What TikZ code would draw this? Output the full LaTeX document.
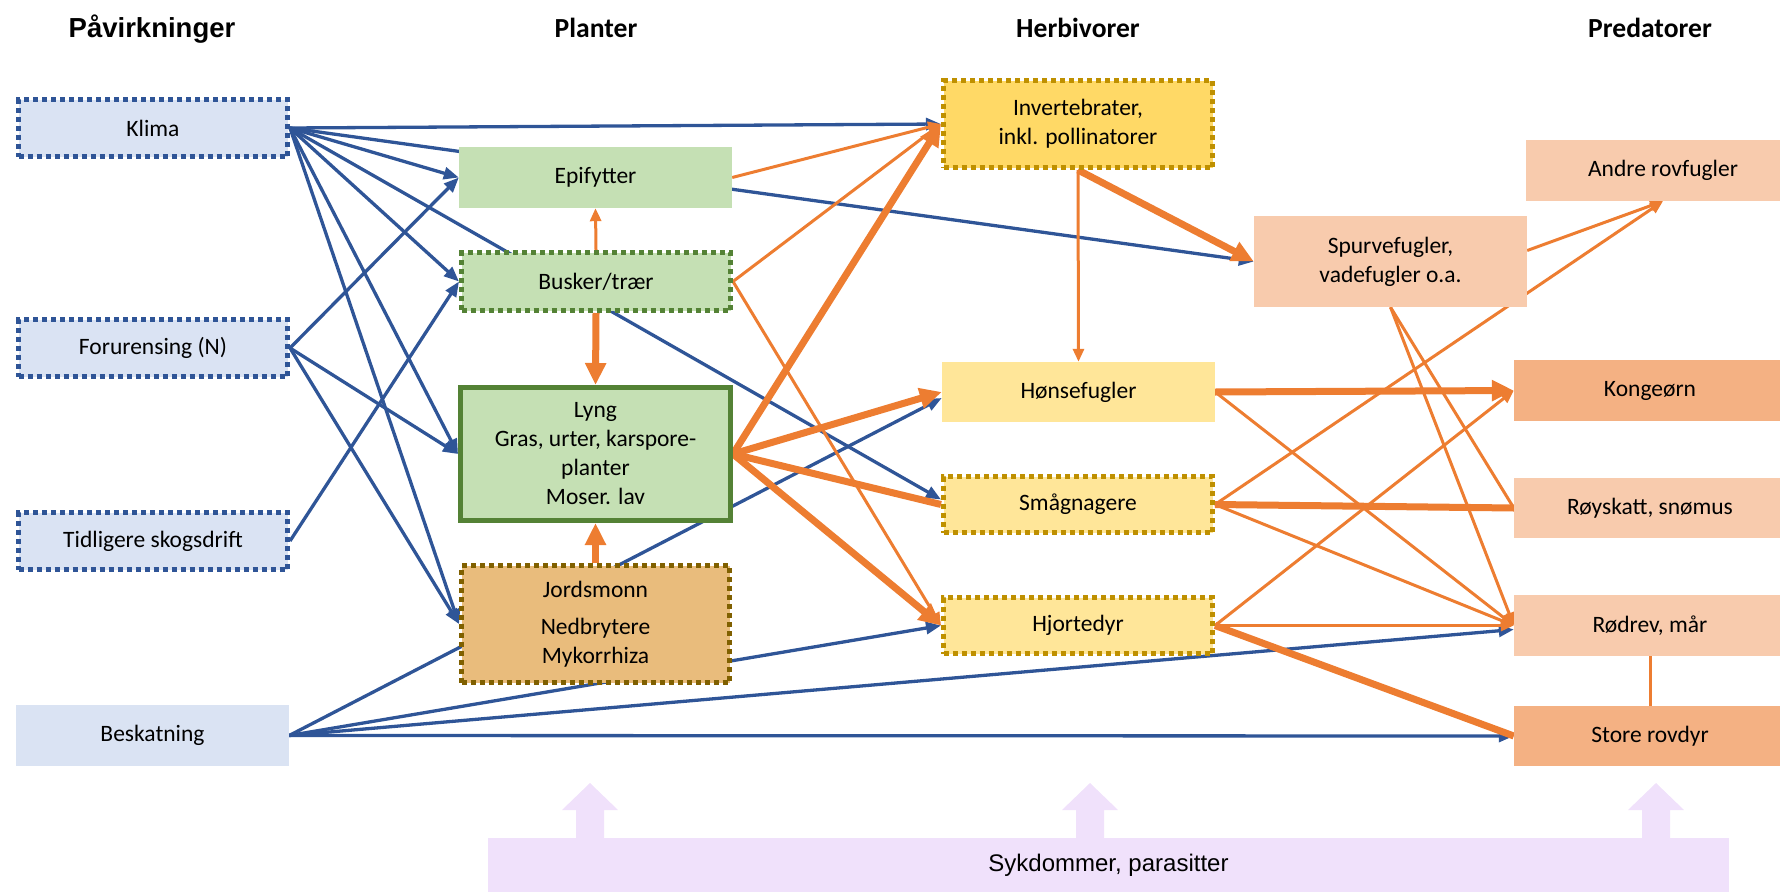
\documentclass[tikz,border=0pt]{standalone}
\usepackage{fontspec}
\setmainfont{Carlito}
\newfontfamily\arialf{Liberation Sans}
\usetikzlibrary{arrows.meta,backgrounds,calc}
\definecolor{blu}{HTML}{2F5597}
\definecolor{org}{HTML}{ED7D31}
\definecolor{pawfill}{HTML}{DAE3F3}
\definecolor{plantfill}{HTML}{C5E0B4}
\definecolor{plantdk}{HTML}{548235}
\definecolor{soilfill}{HTML}{E9BC7C}
\definecolor{soilbd}{HTML}{806000}
\definecolor{invfill}{HTML}{FFD966}
\definecolor{herbfill}{HTML}{FFE699}
\definecolor{goldbd}{HTML}{BF9000}
\definecolor{predl}{HTML}{F8CBAD}
\definecolor{predd}{HTML}{F4B183}
\definecolor{sykfill}{HTML}{F0E1FB}
\begin{document}
\begin{tikzpicture}[x=1pt,y=-1pt,
  bx/.style={rectangle, inner sep=0pt, align=center, font=\fontsize{23.5}{29}\selectfont},
  dotbord/.style={draw=#1, line width=5pt, dash pattern=on 5pt off 4pt},
  hdr/.style={anchor=base, inner sep=0pt, font=\bfseries\fontsize{27.6}{30}\selectfont},
  bl/.style={draw=blu, line width=3.3pt, -{Triangle[length=15pt,width=12pt]}},
  ot/.style={draw=org, line width=3pt, -{Triangle[length=13pt,width=11pt]}},
  otn/.style={draw=org, line width=3pt},
  oT/.style={draw=org, line width=7pt, -{Triangle[length=22pt,width=20pt]}},
  oTn/.style={draw=org, line width=7pt},
]
\useasboundingbox (0,0) rectangle (1780,894);
\clip (0,0) rectangle (1780,894);

% headers
\node[hdr, font=\arialf\bfseries\fontsize{27.5}{30}\selectfont] (h1) at (152,37) {Påvirkninger};
\node[hdr] (h2) at (596,37) {Planter};
\node[hdr] (h3) at (1078,37) {Herbivorer};
\node[hdr] (h4) at (1650,37) {Predatorer};

% Påvirkninger
\node[bx, fill=pawfill, dotbord=blu, minimum width=269pt, minimum height=57pt] (klima) at (153,128) {Klima};
\node[bx, fill=pawfill, dotbord=blu, minimum width=269pt, minimum height=57pt] (foru) at (153,348) {Forurensing (N)};
\node[bx, fill=pawfill, dotbord=blu, minimum width=269pt, minimum height=57pt] (tidl) at (153,541) {Tidligere skogsdrift};
\node[bx, fill=pawfill, minimum width=273pt, minimum height=61pt] (besk) at (152.5,735.5) {Beskatning};

% Planter
\node[bx, fill=plantfill, minimum width=273pt, minimum height=61pt] (epi) at (595.5,177.5) {Epifytter};
\node[bx, fill=plantfill, dotbord=plantdk, minimum width=269pt, minimum height=58pt] (busk) at (596,281.5) {Busker/trær};
\node[bx, fill=plantfill, draw=plantdk, line width=5pt, minimum width=270pt, minimum height=133pt] (lyng) at (595.5,454) {Lyng\\Gras, urter, karspore-\\planter\\Moser. lav};
\node[bx, fill=soilfill, dotbord=soilbd, minimum width=268pt, minimum height=117pt] (jord) at (595.5,624) {Jordsmonn\\[8pt]Nedbrytere\\Mykorrhiza};

% Herbivorer
\node[bx, fill=invfill, dotbord=goldbd, minimum width=269pt, minimum height=87pt] (inv) at (1078,124) {Invertebrater,\\inkl. pollinatorer};
\node[bx, fill=herbfill, minimum width=273pt, minimum height=60pt] (hons) at (1078.5,392) {Hønsefugler};
\node[bx, fill=herbfill, dotbord=goldbd, minimum width=269pt, minimum height=56pt] (smaa) at (1078,504.5) {Smågnagere};
\node[bx, fill=herbfill, dotbord=goldbd, minimum width=269pt, minimum height=56pt] (hjor) at (1078,625.5) {Hjortedyr};
\node[bx, fill=predl, minimum width=273pt, minimum height=91pt] (spur) at (1390.5,261.5) {Spurvefugler,\\vadefugler o.a.};

% Predatorer
\node[bx, fill=predl, minimum width=274pt, minimum height=61pt] (andre) at (1663,170.5) {Andre rovfugler};
\node[bx, fill=predd, minimum width=272pt, minimum height=61pt] (kong) at (1650,390.5) {Kongeørn};
\node[bx, fill=predl, minimum width=272pt, minimum height=60pt] (roys) at (1650,508) {Røyskatt, snømus};
\node[bx, fill=predl, minimum width=272pt, minimum height=61pt] (rodr) at (1650,625.5) {Rødrev, mår};
\node[bx, fill=predd, minimum width=272pt, minimum height=60pt] (store) at (1650,736) {Store rovdyr};

% Sykdommer
\foreach \c in {590,1090,1656}{
  \fill[sykfill] (\c-14,840) -- (\c-14,810) -- (\c-28,810) -- (\c,783) -- (\c+28,810) -- (\c+14,810) -- (\c+14,840) -- cycle;
}
\node[rectangle, inner sep=0pt, fill=sykfill, minimum width=1241pt, minimum height=54pt, font=\arialf\fontsize{24}{28}\selectfont] (syk) at (1108.5,865) {Sykdommer, parasitter};

\begin{scope}[on background layer]
% blue
\draw[bl] (klima.east) -- (inv.west);
\draw[bl] (klima.east) -- (spur.west);
\draw[bl] (klima.east) -- (epi.west);
\draw[bl] (klima.east) -- (busk.west);
\draw[bl] (klima.east) -- ($(smaa.west)+(0,-5)$);
\draw[bl] (klima.east) -- (lyng.west);
\draw[bl] (klima.east) -- (jord.west);
\draw[bl] (foru.east) -- (epi.west);
\draw[bl] (foru.east) -- (lyng.west);
\draw[bl] (foru.east) -- (jord.west);
\draw[bl] (tidl.east) -- (busk.west);
\draw[bl] (besk.east) -- ($(hons.west)+(0,6)$);
\draw[bl] (besk.east) -- (hjor.west);
\draw[bl] (besk.east) -- ($(rodr.west)+(0,4)$);
\draw[bl] (besk.east) -- (store.west);
% orange plants
\draw[ot] (busk.north) -- (epi.south);
\draw[oT] (busk.south) -- (lyng.north);
\draw[oT] (jord.north) -- (lyng.south);
\draw[ot] (epi.east) -- (inv.west);
\draw[ot] (busk.east) -- (inv.west);
\draw[ot] (busk.east) -- (hjor.west);
\draw[oT] (lyng.east) -- (inv.west);
\draw[oT] (lyng.east) -- (hons.west);
\draw[oTn] (lyng.east) -- (smaa.west);
\draw[oT] (lyng.east) -- (hjor.west);
% herbivores
\draw[ot] (inv.south) -- (hons.north);
\draw[oT] (inv.south) -- (spur.west);
\draw[oT] (hons.east) -- (kong.west);
\draw[ot] (hons.east) -- (rodr.west);
\draw[ot] (smaa.east) -- (andre.south);
\draw[oTn] (smaa.east) -- (roys.west);
\draw[ot] (smaa.east) -- (rodr.west);
\draw[ot] (hjor.east) -- (kong.west);
\draw[ot] (hjor.east) -- (rodr.west);
\draw[oTn] (hjor.east) -- (store.west);
\draw[ot] ($(spur.east)+(0,-11)$) -- (andre.south);
\draw[otn] (spur.south) -- (roys.west);
\draw[ot] (spur.south) -- (rodr.west);
\draw[otn] (rodr.south) -- (store.north);
\end{scope}
\end{tikzpicture}
\end{document}
